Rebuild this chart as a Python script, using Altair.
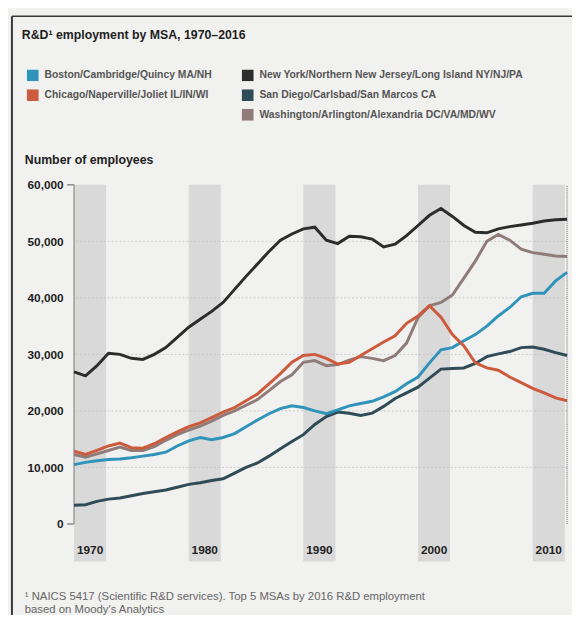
import altair as alt
import pandas as pd

# ---------------- data ----------------
years = list(range(1970, 2014))

boston = [10500, 10900, 11200, 11400, 11500, 11700, 12000, 12300, 12700, 13800,
          14700, 15300, 14900, 15300, 16000, 17200, 18400, 19500, 20400, 20900,
          20600, 20000, 19500, 20200, 20900, 21300, 21700, 22500, 23400, 24800,
          26000, 28500, 30800, 31200, 32400, 33500, 35000, 36800, 38300, 40200,
          40800, 40800, 43000, 44500]
chicago = [12900, 12300, 13000, 13800, 14300, 13500, 13400, 14200, 15300, 16300,
           17200, 17900, 18800, 19800, 20600, 21800, 23000, 24800, 26600, 28600,
           29800, 30000, 29300, 28300, 28600, 29800, 31000, 32200, 33300, 35500,
           36800, 38600, 36600, 33500, 31500, 28500, 27600, 27200, 26000, 25000,
           24000, 23200, 22300, 21800]
new_york = [26900, 26200, 28000, 30200, 30000, 29300, 29100, 30000, 31200, 33000,
            34800, 36200, 37600, 39200, 41500, 43800, 46000, 48200, 50200, 51300,
            52200, 52500, 50200, 49600, 50900, 50800, 50400, 49000, 49500, 51000,
            52800, 54600, 55800, 54400, 52800, 51600, 51500, 52200, 52600, 52900,
            53200, 53600, 53800, 53900]
san_diego = [3300, 3400, 4000, 4400, 4600, 5000, 5400, 5700, 6000, 6500,
             7000, 7300, 7700, 8000, 9000, 10000, 10800, 12000, 13300, 14600,
             15800, 17600, 19000, 19800, 19600, 19200, 19600, 20800, 22200, 23200,
             24200, 25800, 27400, 27500, 27600, 28400, 29600, 30100, 30500, 31200,
             31300, 30900, 30300, 29800]
washington = [12300, 11800, 12400, 13000, 13600, 13000, 13000, 13700, 14800, 15800,
              16600, 17300, 18200, 19200, 20000, 21000, 22000, 23600, 25200, 26400,
              28600, 28900, 28000, 28200, 29000, 29600, 29300, 28900, 29800, 32000,
              36500, 38600, 39200, 40500, 43500, 46500, 50000, 51200, 50200, 48600,
              48000, 47700, 47400, 47300]

series_a = ["Boston/Cambridge/Quincy MA/NH", "Chicago/Naperville/Joliet IL/IN/WI"]
series_b = ["New York/Northern New Jersey/Long Island NY/NJ/PA",
            "San Diego/Carlsbad/San Marcos CA",
            "Washington/Arlington/Alexandria DC/VA/MD/WV"]
colors_a = ["#2f93ba", "#cc5a3c"]
colors_b = ["#2c2c2c", "#2f4b57", "#8f7b77"]

decades = [1970, 1980, 1990, 2000, 2010]
decade_labels = ["1970", "1980", "1990", "2000", "2010"]
band_len = 2.8
y_ticks = [0, 10000, 20000, 30000, 40000, 50000, 60000]
grid_vals = [10000, 20000, 30000, 40000, 50000]
bracket_vals = [0, 60000]
y_min, y_max = -6630, 60000
label_y = -4540

title_text = ["R&D\u00b9 employment by MSA, 1970\u20132016"]
ytitle_text = ["Number of employees"]
foot1 = ["\u00b9 NAICS 5417 (Scientific R&D services). Top 5 MSAs by 2016 R&D employment"]
foot2 = ["based on Moody's Analytics"]

# ---------------- tables ----------------
rows = []
for name, vals in zip(series_a + series_b,
                      [boston, chicago, new_york, san_diego, washington]):
    for yr, v in zip(years, vals):
        rows.append({"year": yr, "value": v, "msa": name})
df = pd.DataFrame(rows)
df_a = df[df["msa"].isin(series_a)]
df_b = df[df["msa"].isin(series_b)]

bands = pd.DataFrame({"start": decades,
                      "end": [d + band_len for d in decades],
                      "mid": [d + band_len / 2 for d in decades],
                      "label": decade_labels,
                      "lo": [y_min] * len(decades),
                      "hi": [y_max] * len(decades),
                      "ly": [label_y] * len(decades)})

W, H = 500, 382
FONT = "Liberation Sans"

xs = alt.Scale(domain=[1970, 2013], nice=False, zero=False)
ys = alt.Scale(domain=[y_min, y_max], nice=False, zero=False)

yaxis = alt.Axis(values=y_ticks, labelExpr="format(datum.value, ',')",
                 format=",", title=None,
                 labelFont=FONT, labelFontWeight="bold", labelFontSize=12,
                 labelColor="#1e1e1e", labelPadding=11,
                 ticks=False, domain=False, grid=False)

band_layer = alt.Chart(bands).mark_rect(color="#d9d9d9").encode(
    x=alt.X("start:Q", scale=xs, axis=None),
    x2="end:Q",
    y=alt.Y("lo:Q", scale=ys, axis=yaxis),
    y2="hi:Q",
)

grid_layer = alt.Chart(pd.DataFrame({"g": grid_vals})).mark_rule(
    color="#c2c2c2", strokeDash=[2, 2], strokeWidth=1, opacity=0.8
).encode(y=alt.Y("g:Q", scale=ys, axis=yaxis))

bracket_v = alt.Chart(pd.DataFrame({"a": [bracket_vals[0]], "b": [bracket_vals[1]]})).mark_rule(
    color="#9c9c9c", strokeWidth=1.5
).encode(x=alt.value(0), y=alt.Y("a:Q", scale=ys, axis=yaxis), y2="b:Q")

bracket_t = alt.Chart(pd.DataFrame({"t": bracket_vals})).mark_rule(
    color="#8a8a8a", strokeWidth=1.5
).encode(x=alt.value(-7), x2=alt.value(0), y=alt.Y("t:Q", scale=ys, axis=yaxis))

right_edge = alt.Chart(pd.DataFrame({"a": [bracket_vals[0]], "b": [bracket_vals[1]]})).mark_rule(
    color="#6a6a6a", strokeWidth=1, strokeDash=[1, 1]
).encode(x=alt.value(W), y=alt.Y("a:Q", scale=ys, axis=yaxis), y2="b:Q")

def legend(x):
    return alt.Legend(title=None, orient="none", legendX=x, legendY=-117,
                      direction="vertical", symbolType="square", symbolSize=36,
                      symbolStrokeWidth=6, labelFont=FONT, labelFontSize=10.5,
                      labelFontWeight="bold", labelColor="#555555",
                      rowPadding=8, clipHeight=12, labelOffset=6, labelLimit=400,
                      padding=0)

lines_b = alt.Chart(df_b).mark_line(strokeWidth=3).encode(
    x=alt.X("year:Q", scale=xs, axis=None),
    y=alt.Y("value:Q", scale=ys, axis=yaxis),
    color=alt.Color("msa:N", scale=alt.Scale(domain=series_b, range=colors_b),
                    legend=legend(170)),
    detail="msa:N",
)
lines_a = alt.Chart(df_a).mark_line(strokeWidth=3).encode(
    x=alt.X("year:Q", scale=xs, axis=None),
    y=alt.Y("value:Q", scale=ys, axis=yaxis),
    color=alt.Color("msa:N", scale=alt.Scale(domain=series_a, range=colors_a),
                    legend=legend(-48)),
    detail="msa:N",
)

xlabels = alt.Chart(bands).mark_text(
    font=FONT, fontWeight="bold", fontSize=12, color="#222222", baseline="middle"
).encode(x=alt.X("mid:Q", scale=xs, axis=None),
         y=alt.Y("ly:Q", scale=ys, axis=yaxis), text="label:N")

def text_layer(lst, x, y, size, weight, color):
    return alt.Chart(pd.DataFrame({"t": lst})).mark_text(
        font=FONT, fontSize=size, fontWeight=weight, color=color,
        align="left", baseline="middle"
    ).encode(x=alt.value(x), y=alt.value(y), text="t:N")

title_l = text_layer(title_text, -53, -152, 12.5, "bold", "#1e1e1e")
ytitle_l = text_layer(ytitle_text, -50, -25, 12.5, "bold", "#222222")
foot1_l = text_layer(foot1, -50, 418, 11.5, "normal", "#666666")
foot2_l = text_layer(foot2, -50, 431, 11.5, "normal", "#666666")

frame_left = alt.Chart(pd.DataFrame({"a": [0]})).mark_rule(
    color="#3a3a3a", strokeWidth=2
).encode(x=alt.value(-63), y=alt.value(-171), y2=alt.value(H + 60))
frame_top = alt.Chart(pd.DataFrame({"a": [0]})).mark_rule(
    color="#3a3a3a", strokeWidth=1.5
).encode(x=alt.value(-63), x2=alt.value(W + 10), y=alt.value(-171))

chart = alt.layer(
    band_layer, grid_layer, bracket_v, bracket_t, right_edge,
    lines_b, lines_a, xlabels, title_l, ytitle_l, foot1_l, foot2_l,
    frame_left, frame_top,
).resolve_scale(color="independent").properties(
    width=W, height=H,
    autosize=alt.AutoSizeParams(type="none"),
    padding={"left": 67, "top": 175, "right": 5, "bottom": 50},
    background="#f1f1ef",
).configure_view(stroke=None)

chart.save("out.html", embed_options={"renderer": "svg", "actions": False})
